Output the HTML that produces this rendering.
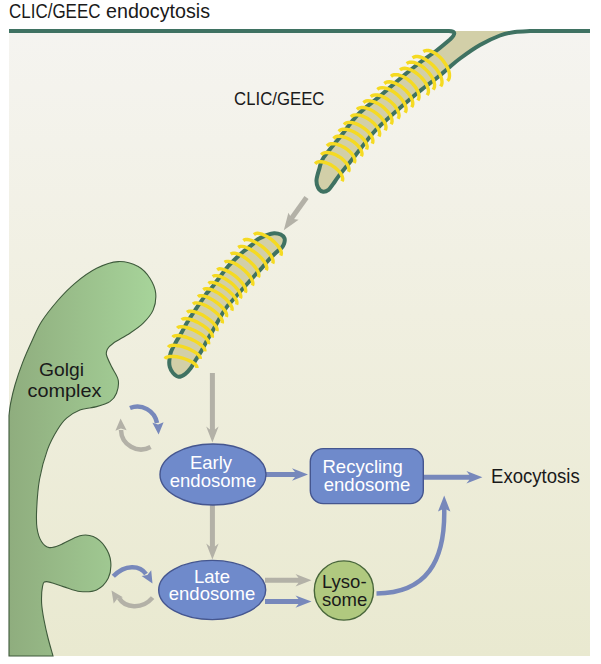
<!DOCTYPE html>
<html><head><meta charset="utf-8"><style>
html,body{margin:0;padding:0;background:#fff;}
svg{display:block;}
text{font-family:"Liberation Sans",sans-serif;}
</style></head><body>
<svg width="601" height="664" viewBox="0 0 601 664">
<defs>
<linearGradient id="bg" x1="0" y1="0" x2="0" y2="1">
<stop offset="0" stop-color="#f5f4f0"/><stop offset="0.45" stop-color="#f0efe0"/><stop offset="1" stop-color="#e9e9d0"/>
</linearGradient>
<linearGradient id="golgi" gradientUnits="userSpaceOnUse" x1="9" y1="0" x2="156" y2="0">
<stop offset="0" stop-color="#8fad7e"/><stop offset="1" stop-color="#a7d49a"/>
</linearGradient>
</defs>
<rect x="0" y="0" width="601" height="664" fill="#ffffff"/>
<rect x="9" y="32" width="581" height="624" fill="url(#bg)"/>
<text x="9" y="17.5" font-size="19.3" fill="#1a1a1a" textLength="91.5" lengthAdjust="spacingAndGlyphs">CLIC/GEEC</text><text x="106" y="17.5" font-size="19.3" fill="#1a1a1a" textLength="104" lengthAdjust="spacingAndGlyphs">endocytosis</text>
<text x="234" y="104.7" font-size="18.5" fill="#1a1a1a" textLength="90.5" lengthAdjust="spacingAndGlyphs">CLIC/GEEC</text>
<path d="M9.0,415.4 C9.3,413.4 9.6,408.4 10.6,403.3 C11.6,398.2 13.0,391.8 15.0,385.0 C17.0,378.2 19.7,370.1 22.6,362.6 C25.5,355.1 29.2,346.9 32.4,340.0 C35.6,333.1 37.3,328.2 41.6,321.5 C45.9,314.8 52.7,306.4 58.2,300.0 C63.8,293.6 68.5,288.6 74.9,283.3 C81.3,278.0 89.4,271.9 96.6,268.3 C103.8,264.7 111.4,261.9 118.3,261.6 C125.2,261.3 132.9,263.8 138.2,266.6 C143.5,269.4 147.0,273.9 149.9,278.3 C152.8,282.8 155.1,288.0 155.7,293.3 C156.2,298.6 155.3,304.9 153.2,309.9 C151.1,314.9 147.1,319.3 143.2,323.2 C139.3,327.1 134.9,329.9 129.9,333.2 C124.9,336.5 117.0,340.6 113.3,343.2 C109.6,345.8 108.6,347.0 107.5,349.0 C106.4,351.0 105.8,352.1 106.5,355.0 C107.2,357.9 109.5,362.4 111.5,366.6 C113.5,370.8 117.4,375.6 118.2,380.0 C119.0,384.4 117.9,389.6 116.5,393.2 C115.1,396.8 113.2,399.4 109.9,401.6 C106.6,403.8 101.6,405.2 96.6,406.6 C91.6,408.0 84.9,408.1 79.9,410.0 C74.9,411.9 70.4,414.9 66.6,418.2 C62.8,421.5 60.5,424.8 57.3,430.0 C54.1,435.2 50.5,441.4 47.5,449.6 C44.5,457.8 41.4,469.2 39.6,479.0 C37.8,488.8 37.1,500.2 36.7,508.4 C36.3,516.6 36.2,522.4 37.0,528.0 C37.8,533.6 39.5,538.5 41.6,541.8 C43.7,545.1 46.3,547.1 49.4,547.6 C52.5,548.1 54.9,547.0 60.0,545.0 C65.1,543.0 74.4,537.2 79.9,535.8 C85.4,534.4 89.0,534.8 93.2,536.6 C97.4,538.4 102.0,542.4 104.9,546.6 C107.8,550.8 110.2,556.3 110.7,561.6 C111.2,566.9 110.6,573.5 108.2,578.2 C105.8,582.9 101.3,587.7 96.6,589.9 C91.9,592.1 85.5,592.0 79.9,591.5 C74.4,591.0 68.8,588.2 63.3,586.6 C57.8,585.0 50.1,581.6 46.6,581.6 C43.1,581.6 43.3,583.0 42.5,586.6 C41.7,590.2 41.4,597.6 41.6,603.2 C41.9,608.8 42.9,614.2 44.0,620.0 C45.1,625.8 46.5,632.0 48.0,638.0 C49.5,644.0 52.2,653.0 53.0,656.0 L9,656 Z" fill="url(#golgi)" stroke="#3e5a3b" stroke-width="1.1"/>
<text font-size="19" fill="#1a1a1a"><tspan x="39" y="376.3" textLength="45" lengthAdjust="spacingAndGlyphs">Golgi</tspan><tspan x="27.5" y="396.6" textLength="74" lengthAdjust="spacingAndGlyphs">complex</tspan></text>
<path d="M9,31 H449 Q459,31 450,39.5  C447.7,41.4 441.0,47.2 436.0,51.0 C431.0,54.8 425.2,58.6 420.0,62.5 C414.8,66.4 411.7,68.9 405.0,74.5 C398.3,80.1 387.8,89.3 380.0,96.0 C372.2,102.7 364.3,108.1 358.0,114.5 C351.7,120.9 347.7,127.3 342.0,134.5 C336.3,141.7 327.4,151.8 323.6,157.5 C319.8,163.2 320.5,165.1 319.3,168.8 C318.1,172.6 316.7,176.9 316.5,180.0 C316.3,183.1 317.0,185.6 318.0,187.5 C319.0,189.4 320.8,191.1 322.5,191.5 C324.2,191.9 326.7,191.1 328.5,189.8 C330.3,188.5 331.8,185.7 333.5,183.5 C335.2,181.3 334.9,181.1 338.5,176.4 C342.1,171.7 349.6,162.6 355.3,155.4 C361.0,148.2 368.3,138.6 372.8,133.3 C377.3,128.0 376.0,129.5 382.5,123.5 C389.0,117.5 404.9,103.6 412.0,97.5 C419.1,91.4 420.7,90.4 425.0,87.0 C429.3,83.6 434.2,80.1 438.0,77.0 C441.8,73.9 444.3,71.6 448.0,68.5 C451.7,65.4 454.7,62.4 460.0,58.5 C465.3,54.6 473.3,48.8 480.0,45.0 C486.7,41.2 494.2,37.7 500.0,35.5 C505.8,33.3 510.0,32.8 515.0,32.0 C520.0,31.2 527.5,31.2 530.0,31.0 H590" fill="#d2cfa8" stroke="none"/>
<path d="M9,31 H449 Q459,31 450,39.5  C447.7,41.4 441.0,47.2 436.0,51.0 C431.0,54.8 425.2,58.6 420.0,62.5 C414.8,66.4 411.7,68.9 405.0,74.5 C398.3,80.1 387.8,89.3 380.0,96.0 C372.2,102.7 364.3,108.1 358.0,114.5 C351.7,120.9 347.7,127.3 342.0,134.5 C336.3,141.7 327.4,151.8 323.6,157.5 C319.8,163.2 320.5,165.1 319.3,168.8 C318.1,172.6 316.7,176.9 316.5,180.0 C316.3,183.1 317.0,185.6 318.0,187.5 C319.0,189.4 320.8,191.1 322.5,191.5 C324.2,191.9 326.7,191.1 328.5,189.8 C330.3,188.5 331.8,185.7 333.5,183.5 C335.2,181.3 334.9,181.1 338.5,176.4 C342.1,171.7 349.6,162.6 355.3,155.4 C361.0,148.2 368.3,138.6 372.8,133.3 C377.3,128.0 376.0,129.5 382.5,123.5 C389.0,117.5 404.9,103.6 412.0,97.5 C419.1,91.4 420.7,90.4 425.0,87.0 C429.3,83.6 434.2,80.1 438.0,77.0 C441.8,73.9 444.3,71.6 448.0,68.5 C451.7,65.4 454.7,62.4 460.0,58.5 C465.3,54.6 473.3,48.8 480.0,45.0 C486.7,41.2 494.2,37.7 500.0,35.5 C505.8,33.3 510.0,32.8 515.0,32.0 C520.0,31.2 527.5,31.2 530.0,31.0 H590" fill="none" stroke="#3f7262" stroke-width="4" stroke-linejoin="round"/>
<path d="M423.3,51.6 L424.8,50.8 L426.5,50.4 L428.6,50.5 L430.8,51.1 L433.2,52.2 L435.7,53.7 L438.1,55.6 L440.5,57.8 L442.7,60.2 L444.7,62.9 L446.4,65.6 L447.8,68.4 L448.8,71.1 L449.4,73.6 L449.5,75.9 L449.2,78.0 L448.6,79.6 L447.5,80.9 M412.5,57.9 L413.9,57.0 L415.6,56.5 L417.7,56.5 L420.1,57.0 L422.6,57.9 L425.3,59.3 L428.0,61.1 L430.7,63.2 L433.2,65.5 L435.6,68.1 L437.6,70.8 L439.4,73.6 L440.7,76.2 L441.6,78.8 L442.0,81.2 L442.0,83.3 L441.5,85.0 L440.6,86.4 M406.7,63.7 L408.0,62.7 L409.7,62.2 L411.7,62.1 L414.0,62.5 L416.4,63.3 L418.9,64.5 L421.5,66.0 L424.0,67.9 L426.4,70.1 L428.6,72.4 L430.5,74.9 L432.1,77.4 L433.4,79.9 L434.2,82.3 L434.6,84.6 L434.5,86.6 L434.0,88.3 L433.1,89.6 M400.0,70.0 L401.3,69.0 L403.0,68.5 L404.9,68.3 L407.2,68.6 L409.6,69.4 L412.2,70.5 L414.8,72.0 L417.3,73.8 L419.8,75.9 L422.0,78.2 L424.0,80.6 L425.7,83.1 L427.0,85.6 L427.9,88.0 L428.4,90.2 L428.4,92.2 L427.9,93.9 L427.1,95.2 M391.0,76.3 L392.3,75.3 L393.9,74.7 L395.8,74.6 L398.0,74.8 L400.4,75.5 L402.9,76.5 L405.5,77.9 L408.0,79.6 L410.4,81.6 L412.7,83.8 L414.6,86.1 L416.3,88.5 L417.6,90.9 L418.5,93.2 L419.0,95.4 L419.0,97.4 L418.6,99.0 L417.8,100.4 M384.4,83.6 L385.6,82.6 L387.2,82.0 L389.2,81.8 L391.3,82.0 L393.7,82.7 L396.3,83.7 L398.8,85.0 L401.4,86.7 L403.8,88.7 L406.1,90.8 L408.1,93.1 L409.9,95.5 L411.2,97.8 L412.2,100.1 L412.7,102.3 L412.8,104.2 L412.4,105.9 L411.6,107.2 M377.4,89.5 L378.6,88.5 L380.2,87.9 L382.1,87.7 L384.3,87.9 L386.7,88.5 L389.2,89.4 L391.8,90.8 L394.4,92.4 L396.9,94.3 L399.2,96.4 L401.2,98.7 L403.0,101.0 L404.4,103.3 L405.4,105.6 L406.0,107.7 L406.1,109.6 L405.8,111.3 L405.0,112.6 M370.8,96.8 L372.0,95.8 L373.5,95.1 L375.4,94.9 L377.5,95.0 L379.9,95.5 L382.3,96.4 L384.9,97.7 L387.4,99.2 L389.9,101.0 L392.2,103.1 L394.2,105.2 L395.9,107.5 L397.3,109.7 L398.3,111.9 L398.9,114.0 L399.1,115.8 L398.7,117.5 L398.0,118.8 M363.5,102.7 L364.6,101.7 L366.1,101.0 L368.0,100.8 L370.1,100.9 L372.5,101.4 L375.0,102.2 L377.5,103.4 L380.1,104.9 L382.6,106.7 L384.9,108.7 L387.0,110.8 L388.8,113.0 L390.2,115.2 L391.3,117.4 L391.9,119.4 L392.1,121.3 L391.8,122.9 L391.1,124.2 M357.0,109.5 L358.1,108.5 L359.6,107.8 L361.4,107.5 L363.5,107.5 L365.9,108.0 L368.4,108.8 L371.0,109.9 L373.6,111.4 L376.1,113.1 L378.5,115.0 L380.6,117.0 L382.5,119.2 L384.0,121.3 L385.1,123.4 L385.8,125.5 L386.0,127.3 L385.8,128.9 L385.2,130.3 M351.0,117.0 L352.0,116.0 L353.5,115.2 L355.3,114.9 L357.3,114.9 L359.7,115.2 L362.1,115.9 L364.7,117.0 L367.2,118.3 L369.7,119.9 L372.1,121.7 L374.2,123.6 L376.0,125.7 L377.6,127.8 L378.7,129.8 L379.4,131.8 L379.7,133.6 L379.5,135.2 L378.9,136.5 M344.0,124.6 L345.0,123.6 L346.4,122.8 L348.2,122.4 L350.3,122.4 L352.6,122.7 L355.0,123.4 L357.6,124.4 L360.2,125.7 L362.7,127.3 L365.1,129.0 L367.3,130.9 L369.1,132.9 L370.7,135.0 L371.9,137.0 L372.6,138.9 L372.9,140.7 L372.8,142.3 L372.2,143.6 M338.8,131.5 L339.8,130.4 L341.2,129.7 L342.9,129.3 L344.9,129.2 L347.1,129.5 L349.6,130.1 L352.1,131.0 L354.6,132.2 L357.1,133.7 L359.4,135.3 L361.5,137.1 L363.4,139.1 L364.9,141.0 L366.1,143.0 L366.8,144.9 L367.2,146.6 L367.0,148.1 L366.5,149.5 M333.5,138.5 L334.5,137.5 L335.8,136.7 L337.5,136.3 L339.5,136.2 L341.8,136.5 L344.2,137.1 L346.7,138.0 L349.3,139.2 L351.7,140.6 L354.1,142.2 L356.2,144.0 L358.1,145.9 L359.7,147.9 L360.9,149.8 L361.6,151.7 L362.0,153.4 L361.9,154.9 L361.3,156.2 M327.0,146.0 L327.9,145.0 L329.3,144.2 L330.9,143.8 L332.9,143.7 L335.1,143.9 L337.4,144.4 L339.9,145.3 L342.3,146.4 L344.8,147.8 L347.1,149.3 L349.2,151.1 L351.0,152.9 L352.5,154.8 L353.7,156.7 L354.4,158.5 L354.8,160.1 L354.7,161.7 L354.1,163.0 M321.3,154.8 L322.2,153.8 L323.5,153.0 L325.2,152.6 L327.1,152.5 L329.3,152.8 L331.7,153.3 L334.1,154.2 L336.6,155.3 L339.0,156.7 L341.3,158.2 L343.4,160.0 L345.2,161.8 L346.8,163.7 L347.9,165.5 L348.7,167.3 L349.0,169.0 L349.0,170.5 L348.4,171.8 M315.2,163.8 L316.1,162.8 L317.4,162.1 L319.1,161.7 L321.0,161.7 L323.2,162.0 L325.5,162.6 L328.0,163.5 L330.4,164.6 L332.8,166.1 L335.1,167.7 L337.1,169.4 L339.0,171.3 L340.5,173.2 L341.6,175.0 L342.3,176.8 L342.7,178.5 L342.6,180.0 L342.0,181.2" fill="none" stroke="#f5da22" stroke-width="3.4" stroke-linecap="butt"/>
<path d="M274.1,233.2 C271.9,233.3 270.3,233.8 267.5,234.9 C264.7,236.0 259.9,238.0 257.5,239.5 C255.1,241.0 255.3,242.0 253.0,244.0 C250.7,246.0 246.7,248.8 243.7,251.3 C240.7,253.9 237.7,256.7 235.0,259.3 C232.3,261.9 230.6,263.3 227.7,266.7 C224.8,270.1 220.4,276.2 217.7,279.7 C215.0,283.2 213.6,285.4 211.7,287.7 C209.8,290.0 208.1,291.4 206.3,293.7 C204.5,296.0 202.7,299.3 201.0,301.7 C199.3,304.1 198.6,304.9 196.3,308.3 C194.0,311.7 189.9,317.9 187.4,322.0 C184.9,326.1 183.4,329.3 181.5,332.7 C179.6,336.1 177.5,339.2 175.7,342.5 C173.9,345.8 171.9,349.2 170.8,352.3 C169.7,355.4 169.5,358.7 169.3,361.1 C169.1,363.6 169.2,365.0 169.8,367.0 C170.4,369.0 171.5,371.4 173.0,373.0 C174.5,374.6 176.5,376.7 178.6,376.8 C180.7,376.9 183.4,375.3 185.4,373.8 C187.4,372.3 189.0,370.4 190.8,368.0 C192.6,365.6 194.1,362.5 196.0,359.5 C197.9,356.5 200.2,353.2 202.0,350.0 C203.8,346.8 205.3,343.5 207.0,340.5 C208.7,337.5 209.4,336.6 212.0,332.0 C214.6,327.4 220.1,317.3 222.7,313.0 C225.3,308.7 225.7,308.3 227.5,306.0 C229.3,303.7 229.0,304.3 233.5,299.2 C238.0,294.1 250.1,280.5 254.7,275.5 C259.2,270.5 258.5,271.7 260.8,269.2 C263.1,266.7 265.8,263.0 268.3,260.3 C270.8,257.6 273.6,254.9 275.8,252.8 C278.0,250.7 280.2,249.3 281.6,247.8 C283.0,246.3 283.6,245.2 284.1,243.6 C284.6,242.0 285.1,239.7 284.5,238.2 C283.9,236.7 282.5,235.3 280.8,234.5 C279.1,233.7 276.3,233.1 274.1,233.2 Z" fill="#d2cfa8" stroke="#3f7262" stroke-width="4"/>
<path d="M253.9,234.7 L254.9,233.9 L256.2,233.4 L257.8,233.3 L259.8,233.6 L262.0,234.2 L264.3,235.2 L266.8,236.4 L269.2,237.9 L271.6,239.7 L273.9,241.6 L275.9,243.6 L277.7,245.6 L279.2,247.7 L280.3,249.6 L281.1,251.5 L281.4,253.1 L281.2,254.5 L280.7,255.6 M243.4,240.7 L244.4,239.9 L245.7,239.5 L247.5,239.5 L249.5,239.9 L251.9,240.6 L254.4,241.7 L257.0,243.1 L259.6,244.8 L262.2,246.6 L264.7,248.7 L267.0,250.9 L268.9,253.1 L270.6,255.2 L271.9,257.3 L272.7,259.2 L273.1,260.9 L273.1,262.4 L272.6,263.5 M238.2,247.5 L239.2,246.8 L240.5,246.4 L242.2,246.4 L244.2,246.7 L246.5,247.5 L248.9,248.6 L251.4,250.0 L254.0,251.6 L256.5,253.5 L258.8,255.6 L261.0,257.7 L262.9,259.9 L264.5,262.1 L265.7,264.1 L266.4,266.0 L266.8,267.7 L266.7,269.1 L266.2,270.2 M230.7,254.2 L231.7,253.5 L233.0,253.1 L234.7,253.2 L236.7,253.6 L238.9,254.4 L241.3,255.5 L243.8,257.0 L246.3,258.7 L248.8,260.6 L251.1,262.7 L253.3,264.9 L255.1,267.1 L256.7,269.3 L257.8,271.3 L258.6,273.2 L258.9,274.9 L258.8,276.3 L258.3,277.3 M224.7,262.4 L225.6,261.7 L227.0,261.4 L228.7,261.4 L230.7,261.8 L232.9,262.6 L235.3,263.8 L237.8,265.2 L240.3,267.0 L242.7,268.9 L245.1,271.0 L247.2,273.2 L249.1,275.4 L250.6,277.5 L251.8,279.6 L252.6,281.5 L252.9,283.1 L252.8,284.5 L252.3,285.5 M217.2,269.9 L218.1,269.2 L219.4,268.8 L221.1,268.9 L223.1,269.3 L225.3,270.1 L227.8,271.2 L230.3,272.6 L232.8,274.3 L235.3,276.2 L237.7,278.2 L239.8,280.3 L241.7,282.5 L243.3,284.6 L244.5,286.6 L245.4,288.5 L245.7,290.1 L245.7,291.5 L245.2,292.6 M212.7,276.7 L213.6,276.0 L214.9,275.6 L216.5,275.6 L218.5,276.0 L220.7,276.7 L223.0,277.7 L225.5,279.0 L228.0,280.6 L230.5,282.4 L232.8,284.3 L234.9,286.4 L236.8,288.5 L238.4,290.5 L239.6,292.5 L240.4,294.3 L240.8,295.9 L240.8,297.2 L240.3,298.2 M208.5,283.5 L209.4,282.8 L210.6,282.4 L212.3,282.4 L214.2,282.7 L216.4,283.4 L218.8,284.4 L221.3,285.7 L223.8,287.2 L226.3,289.0 L228.7,290.9 L230.8,292.9 L232.8,294.9 L234.4,296.9 L235.6,298.8 L236.5,300.6 L236.9,302.2 L236.9,303.5 L236.5,304.6 M203.3,289.8 L204.2,289.1 L205.4,288.7 L207.1,288.7 L209.0,289.0 L211.2,289.7 L213.6,290.6 L216.1,291.9 L218.7,293.4 L221.2,295.2 L223.6,297.1 L225.8,299.0 L227.8,301.1 L229.4,303.1 L230.7,305.0 L231.6,306.7 L232.1,308.3 L232.1,309.6 L231.7,310.6 M198.0,296.8 L198.8,296.1 L200.1,295.7 L201.7,295.6 L203.6,295.9 L205.8,296.5 L208.1,297.4 L210.6,298.7 L213.2,300.1 L215.7,301.8 L218.1,303.6 L220.3,305.5 L222.3,307.4 L223.9,309.4 L225.2,311.2 L226.1,312.9 L226.6,314.5 L226.6,315.8 L226.2,316.8 M193.0,304.1 L193.8,303.4 L195.0,302.9 L196.6,302.9 L198.5,303.1 L200.7,303.6 L203.2,304.5 L205.7,305.6 L208.3,307.0 L210.9,308.6 L213.3,310.4 L215.6,312.2 L217.7,314.1 L219.4,316.0 L220.8,317.8 L221.8,319.4 L222.3,320.9 L222.4,322.2 L222.1,323.3 M187.1,312.4 L187.9,311.7 L189.1,311.2 L190.7,311.1 L192.6,311.3 L194.8,311.8 L197.3,312.7 L199.8,313.7 L202.5,315.1 L205.1,316.6 L207.6,318.3 L210.0,320.1 L212.1,321.9 L213.9,323.8 L215.3,325.5 L216.4,327.2 L217.0,328.7 L217.1,329.9 L216.8,330.9 M181.8,319.9 L182.5,319.1 L183.7,318.7 L185.3,318.5 L187.2,318.7 L189.5,319.1 L191.9,319.9 L194.5,320.9 L197.2,322.1 L199.9,323.6 L202.5,325.2 L204.9,326.9 L207.1,328.6 L208.9,330.4 L210.5,332.1 L211.5,333.7 L212.2,335.1 L212.4,336.4 L212.1,337.4 M177.3,328.2 L178.0,327.4 L179.1,326.9 L180.7,326.7 L182.6,326.7 L184.9,327.1 L187.4,327.7 L190.0,328.6 L192.8,329.7 L195.5,331.0 L198.2,332.5 L200.7,334.0 L203.0,335.7 L204.9,337.3 L206.5,338.9 L207.7,340.4 L208.4,341.8 L208.7,343.1 L208.5,344.1 M172.8,337.2 L173.4,336.4 L174.6,335.9 L176.1,335.6 L178.0,335.5 L180.3,335.8 L182.8,336.3 L185.5,337.0 L188.3,338.0 L191.1,339.1 L193.8,340.4 L196.4,341.9 L198.8,343.4 L200.8,344.9 L202.5,346.4 L203.8,347.9 L204.6,349.2 L204.9,350.4 L204.8,351.4 M168.3,347.3 L168.9,346.5 L169.9,345.9 L171.4,345.5 L173.3,345.3 L175.5,345.4 L177.9,345.7 L180.6,346.2 L183.4,346.9 L186.2,347.9 L188.9,348.9 L191.5,350.2 L193.9,351.5 L196.0,352.8 L197.7,354.2 L199.1,355.5 L199.9,356.8 L200.3,357.9 L200.2,358.9 M165.0,358.8 L165.5,358.0 L166.5,357.3 L167.9,356.8 L169.7,356.5 L171.9,356.4 L174.3,356.5 L176.9,356.8 L179.7,357.4 L182.5,358.1 L185.2,359.0 L187.8,360.0 L190.2,361.1 L192.4,362.3 L194.2,363.5 L195.5,364.7 L196.5,365.9 L196.9,367.0 L196.9,368.0" fill="none" stroke="#f5da22" stroke-width="3.4" stroke-linecap="butt"/>
<path d="M306.5,197.5 L290,220.5" stroke="#b3b1a7" stroke-width="5"/>
<path d="M283.8,230.3 L288.4,212.8 L291.8,218.8 L298.6,219.8 Z" fill="#b3b1a7"/>
<path d="M209.9,373 V429.5 L206.20000000000002,426.5 L212.4,442.5 L218.6,426.5 L214.9,429.5 V373 Z" fill="#b3b1a7"/>
<path d="M209.9,505 V546.5 L206.20000000000002,543.5 L212.4,559.5 L218.6,543.5 L214.9,546.5 V505 Z" fill="#b3b1a7"/>
<path d="M265,577.7 H298.5 L295.5,574.0 L311.5,580.2 L295.5,586.4000000000001 L298.5,582.7 H265 Z" fill="#b3b1a7"/>
<path d="M265,599.1 H298.5 L295.5,595.4 L311.5,601.6 L295.5,607.8000000000001 L298.5,604.1 H265 Z" fill="#7788bb"/>
<path d="M266,472.0 H295 L292,468.3 L308,474.5 L292,480.7 L295,477.0 H266 Z" fill="#7788bb"/>
<path d="M423,474.7 H469.4 L466.4,471.0 L482.4,477.2 L466.4,483.4 L469.4,479.7 H423 Z" fill="#7788bb"/>
<path d="M376.5,593.4 C426,593 445.5,562 444.2,508" fill="none" stroke="#7788bb" stroke-width="4.5"/>
<path d="M444.2,495.5 L450.4,511.5 L444.2,508.5 L438.0,511.5 Z" fill="#7788bb"/>
<path d="M130,408 A20,20 0 0 1 157,423" fill="none" stroke="#7788bb" stroke-width="4.5"/>
<path d="M158.6,434.5 L152.4,422.8 L158.1,424.5 L163.6,422.2 Z" fill="#7788bb"/>
<path d="M150.6,447 A20,20 0 0 1 121,430" fill="none" stroke="#b3b1a7" stroke-width="4.5"/>
<path d="M120.6,418.5 L126.6,430.3 L120.9,428.5 L115.4,430.7 Z" fill="#b3b1a7"/>
<path d="M113.3,576.3 C125,564 140,565 146,574" fill="none" stroke="#7788bb" stroke-width="4.5"/>
<path d="M152.5,583.5 L141.6,576.0 L147.4,574.9 L151.2,570.3 Z" fill="#7788bb"/>
<path d="M152.6,597.6 C142,610 125,608 119,598" fill="none" stroke="#b3b1a7" stroke-width="4.5"/>
<path d="M111.5,590.5 L122.9,597.2 L117.2,598.7 L113.7,603.6 Z" fill="#b3b1a7"/>
<ellipse cx="213" cy="474.5" rx="53" ry="30.5" fill="#6f8acb" stroke="#45568f" stroke-width="1.4"/>
<text font-size="18.5" fill="#ffffff" text-anchor="middle"><tspan x="211" y="468.5">Early</tspan><tspan x="213" y="486.5">endosome</tspan></text>
<ellipse cx="212.2" cy="590" rx="53.5" ry="29.6" fill="#6f8acb" stroke="#45568f" stroke-width="1.4"/>
<text font-size="18.5" fill="#ffffff" text-anchor="middle"><tspan x="212" y="583">Late</tspan><tspan x="212" y="600">endosome</tspan></text>
<rect x="310.3" y="448.6" width="113" height="55" rx="13" fill="#6f8acb" stroke="#45568f" stroke-width="1.4"/>
<text font-size="18.5" fill="#ffffff" text-anchor="middle"><tspan x="362.6" y="473.4">Recycling</tspan><tspan x="367" y="491.4">endosome</tspan></text>
<circle cx="343.9" cy="590.5" r="29.6" fill="#b0c97f" stroke="#48663a" stroke-width="1.4"/>
<text font-size="18.5" fill="#1a1a1a"><tspan x="322" y="587.6">Lyso-</tspan><tspan x="322" y="605.5">some</tspan></text>
<text x="491" y="482.5" font-size="19.8" fill="#1a1a1a" textLength="88.7" lengthAdjust="spacingAndGlyphs">Exocytosis</text>
</svg>
</body></html>
